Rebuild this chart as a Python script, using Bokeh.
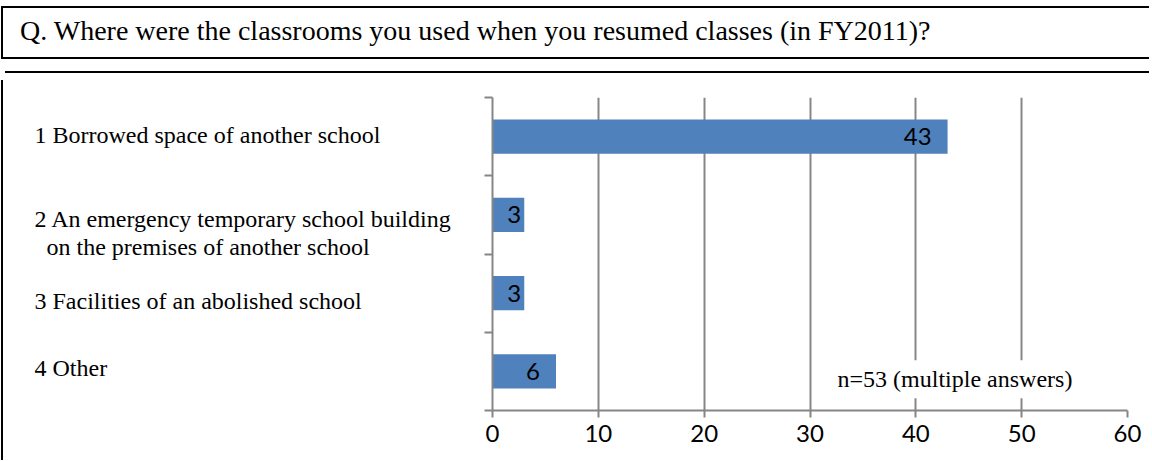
from bokeh.plotting import figure
from bokeh.models import Range1d, FixedTicker, Label, Div, ColumnDataSource
from bokeh.layouts import column, row
from bokeh.embed import file_html
from bokeh.resources import INLINE
from bokeh.core.properties import value

# ---------------- data ----------------
title_text = "Q. Where were the classrooms you used when you resumed classes (in FY2011)?"
categories = [
    "1 Borrowed space of another school",
    "2 An emergency temporary school building\n\u00a0\u00a0on the premises of another school",
    "3 Facilities of an abolished school",
    "4 Other",
]
counts = [43, 3, 3, 6]
x_ticks = [0, 10, 20, 30, 40, 50, 60]
note_text = "n=53 (multiple answers)"

# ---------------- styling ----------------
BAR = "#4F81BD"
GRID = "#868686"
SERIF = "Liberation Serif"
SANS = "Lato"

n = len(categories)
ys = [n - i - 0.5 for i in range(n)]
label_nudge = [-2, 18, 8, -3]  # px, fine vertical placement of category texts
val_offset = [-16 if c >= 5 else -3 for c in counts]

src = ColumnDataSource(dict(
    y=ys, count=counts, label=[str(c) for c in counts], xoff=val_offset,
    cat=categories, nudge=label_nudge, cx=[26] * n,
))

yr = Range1d(0, n)
FIG_H = 380
TOP, BOTTOM = 22, 45

# ---------------- main plot ----------------
main = figure(width=670, height=FIG_H, x_range=Range1d(x_ticks[0], x_ticks[-1]), y_range=yr,
              output_backend="svg", toolbar_location=None,
              min_border_left=10, min_border_right=25, min_border_top=TOP, min_border_bottom=BOTTOM)
main.outline_line_color = None
main.background_fill_color = "white"
main.border_fill_color = "white"

main.xaxis.ticker = FixedTicker(ticks=x_ticks)
main.xgrid.ticker = FixedTicker(ticks=x_ticks)
main.xgrid.grid_line_color = GRID
main.xgrid.grid_line_width = 2
main.ygrid.visible = False

for ax in (main.xaxis, main.yaxis):
    ax.axis_line_color = GRID
    ax.axis_line_width = 2
    ax.major_tick_line_color = GRID
    ax.major_tick_line_width = 2
    ax.major_tick_in = 0
    ax.minor_tick_in = 0
    ax.minor_tick_out = 0

main.xaxis.major_tick_out = 7
main.xaxis.major_label_text_font = SANS
main.xaxis.major_label_text_font_size = "24px"
main.xaxis.major_label_text_color = "black"
main.xaxis.major_label_standoff = 7

bounds = list(range(n + 1))
main.yaxis.ticker = FixedTicker(ticks=bounds)
main.yaxis.major_tick_out = 8
main.yaxis.major_label_overrides = {b: "" for b in bounds}
main.yaxis.major_label_standoff = 0

main.hbar(y="y", left=0, right="count", height=0.44, source=src,
          fill_color=BAR, line_color=None)
main.text(x="count", y="y", text="label", x_offset="xoff", source=src,
          text_align="right", text_baseline="middle",
          text_font=value(SANS), text_font_size="24px", text_color="black")

note = Label(x=43.7, y=0.40, text=note_text, text_align="center", text_baseline="middle",
             text_font=SERIF, text_font_size="24px", text_color="black",
             background_fill_color="white", padding=6)
main.add_layout(note)

# ---------------- category label panel ----------------
lab = figure(width=474, height=FIG_H, x_range=Range1d(0, 474), y_range=yr,
             output_backend="svg", toolbar_location=None,
             min_border_left=0, min_border_right=0, min_border_top=TOP, min_border_bottom=BOTTOM,
             x_axis_location=None, y_axis_location=None)
lab.outline_line_color = None
lab.grid.visible = False
lab.text(x="cx", y="y", text="cat", y_offset="nudge", source=src,
         text_align="left", text_baseline="middle", text_line_height=1.1,
         text_font=value(SERIF), text_font_size="24px", text_color="black")

# ---------------- frames ----------------
top_html = (
    '<div style="box-sizing:border-box;width:1148px;height:53px;border:2px solid #000;'
    'border-right:none;padding:7px 0 0 17px;font-family:\'Liberation Serif\';font-size:28px;'
    'line-height:31px;color:#000;white-space:nowrap;margin:2px 0 0 0;">' + title_text + '</div>'
    '<div style="box-sizing:border-box;margin:12px 0 0 4px;width:1144px;height:2px;'
    'background:#000;"></div>'
)
top_div = Div(text=top_html, width=1148, height=66)
left_rule = Div(text="", width=2, height=FIG_H, styles={"background-color": "#000000"})

layout = column(
    top_div,
    row(left_rule, lab, main, spacing=0),
    spacing=0, margin=(-1, 0, 0, -4),
)

open("out.html", "w").write(file_html(layout, INLINE))
